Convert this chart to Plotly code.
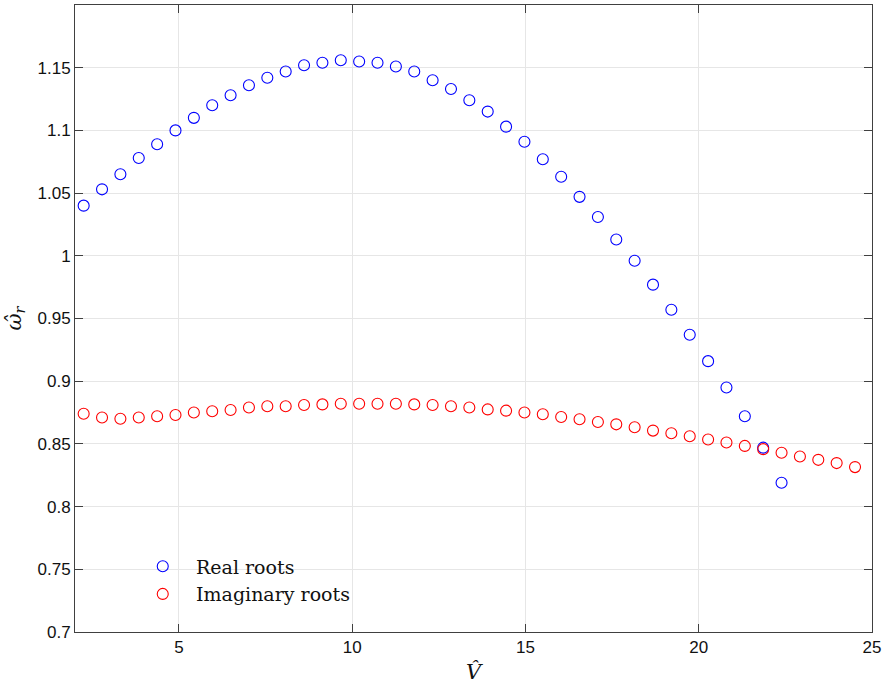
import plotly.graph_objects as go

# x positions (V hat)
v_hat = [2.25, 2.78, 3.31, 3.84, 4.37, 4.90, 5.43, 5.96, 6.49, 7.02,
         7.55, 8.08, 8.61, 9.14, 9.67, 10.20, 10.73, 11.26, 11.79, 12.32,
         12.85, 13.38, 13.91, 14.44, 14.97, 15.50, 16.03, 16.56, 17.09, 17.62,
         18.15, 18.68, 19.21, 19.74, 20.27, 20.80, 21.33, 21.86, 22.39, 22.92,
         23.45, 23.98, 24.51]

real_roots = [1.040, 1.053, 1.065, 1.078, 1.089, 1.100, 1.110, 1.120, 1.128, 1.136,
              1.142, 1.147, 1.152, 1.154, 1.156, 1.155, 1.154, 1.151, 1.147, 1.140,
              1.133, 1.124, 1.115, 1.103, 1.091, 1.077, 1.063, 1.047, 1.031, 1.013,
              0.996, 0.977, 0.957, 0.937, 0.916, 0.895, 0.872, 0.847, 0.819]

imag_roots = [0.874, 0.871, 0.870, 0.871, 0.872, 0.873, 0.875, 0.876, 0.877, 0.879,
              0.880, 0.880, 0.881, 0.8815, 0.882, 0.882, 0.882, 0.882, 0.8815, 0.881,
              0.880, 0.879, 0.8775, 0.8765, 0.875, 0.8736, 0.8715, 0.8696, 0.8675, 0.8656,
              0.8633, 0.8606, 0.8585, 0.8561, 0.8535, 0.8511, 0.8484, 0.8458, 0.8429, 0.840,
              0.8373, 0.8347, 0.8315]

x_ticks = [5, 10, 15, 20, 25]
y_ticks = [0.7, 0.75, 0.8, 0.85, 0.9, 0.95, 1.0, 1.05, 1.1, 1.15]
y_tick_text = ["0.7", "0.75", "0.8", "0.85", "0.9", "0.95", "1", "1.05", "1.1", "1.15"]

serif = "DejaVu Serif, Liberation Serif, serif"

fig = go.Figure()
fig.add_trace(go.Scatter(
    x=v_hat[:len(real_roots)], y=real_roots, mode="markers", name="\u2002\u2009Real roots",
    marker=dict(symbol="circle-open", size=11, color="#0000ff", line=dict(width=1.1, color="#0000ff")),
))
fig.add_trace(go.Scatter(
    x=v_hat[:len(imag_roots)], y=imag_roots, mode="markers", name="\u2002\u2009Imaginary roots",
    marker=dict(symbol="circle-open", size=11, color="#ff0000", line=dict(width=1.1, color="#ff0000")),
))

axis_common = dict(
    showline=True, linecolor="#404040", linewidth=1, mirror="ticks",
    ticks="inside", ticklen=8, tickcolor="#404040", tickwidth=1,
    showgrid=True, gridcolor="#e6e6e6", gridwidth=1, zeroline=False,
    tickfont=dict(family="Liberation Sans, Arial, sans-serif", size=17, color="#111111"),
)

fig.update_layout(
    width=886, height=684,
    margin=dict(l=75, r=14, t=4, b=51),
    paper_bgcolor="white", plot_bgcolor="white",
    showlegend=True,
    legend=dict(
        x=0.085, y=0.135, xanchor="left", yanchor="top",
        bgcolor="rgba(0,0,0,0)", borderwidth=0,
        font=dict(family=serif, size=19, color="#111111"),
        tracegroupgap=0,
    ),
    xaxis=dict(
        range=[2, 25], tickvals=x_ticks, ticktext=[str(t) for t in x_ticks],
        title=dict(text="<i>V̂</i>", font=dict(family=serif, size=21, color="#111111"), standoff=8),
        **axis_common,
    ),
    yaxis=dict(
        range=[0.7, 1.2], tickvals=y_ticks, ticktext=y_tick_text,
        title=dict(text="<i>ω̂</i><sub><i>r</i></sub>", font=dict(family=serif, size=21, color="#111111"), standoff=10),
        **axis_common,
    ),
)

fig.write_html("out.html")
